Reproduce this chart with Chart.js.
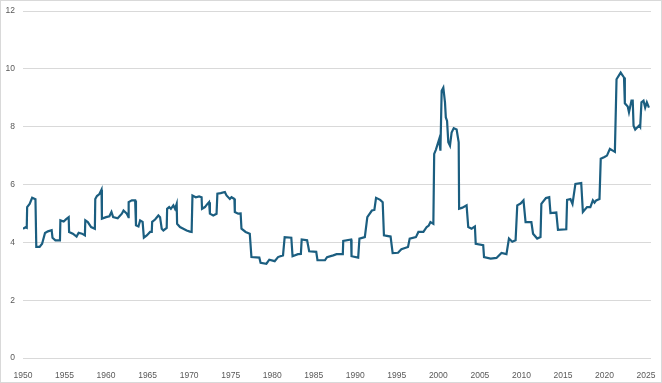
<!DOCTYPE html>
<html>
<head>
<meta charset="utf-8">
<script src="https://cdn.jsdelivr.net/npm/chart.js@4"></script>
<style>
  html, body { margin: 0; padding: 0; background: #fff; }
  #wrap { width: 662px; height: 383px; box-sizing: border-box; border: 1px solid #d9d9d9; }
  #chart { display: block; }
</style>
</head>
<body>
<div id="wrap"><canvas id="chart" width="660" height="381"></canvas></div>
<script>
// x positions (decimal years) and values
const years = [
  1950.0, 1950.3, 1950.45, 1950.5, 1950.8, 1951.1, 1951.5, 1951.6, 1952.0, 1952.3,
  1952.65, 1953.0, 1953.45, 1953.55, 1953.9, 1954.45, 1954.5, 1954.9, 1955.2, 1955.5,
  1955.55, 1956.0, 1956.45, 1956.7, 1957.1, 1957.45, 1957.5, 1957.8, 1958.2, 1958.65,
  1958.7, 1958.9, 1959.2, 1959.45, 1959.5, 1960.0, 1960.4, 1960.65, 1960.85, 1961.4,
  1961.9, 1962.1, 1962.5, 1962.7, 1962.72, 1963.1, 1963.5, 1963.6, 1963.9, 1964.1,
  1964.4, 1964.55, 1964.9, 1965.3, 1965.5, 1965.55, 1965.9, 1966.3, 1966.5, 1966.7,
  1966.9, 1967.3, 1967.35, 1967.6, 1967.8, 1968.1, 1968.3, 1968.5, 1968.55, 1968.9,
  1969.3, 1969.7, 1970.1, 1970.3, 1970.4, 1970.8, 1971.2, 1971.5, 1971.55, 1971.9,
  1972.2, 1972.4, 1972.5, 1972.9, 1973.3, 1973.4, 1973.8, 1974.3, 1974.5, 1974.9,
  1975.1, 1975.45, 1975.5, 1975.9, 1976.2, 1976.3, 1976.8, 1977.3, 1977.5, 1978.45,
  1978.6, 1979.3, 1979.65, 1980.3, 1980.7, 1981.3, 1981.5, 1982.3, 1982.45, 1983.1,
  1983.45, 1983.55, 1984.2, 1984.45, 1985.3, 1985.45, 1986.35, 1986.6, 1987.35, 1987.75,
  1988.5, 1988.55, 1989.5, 1989.55, 1990.35, 1990.5, 1991.15, 1991.45, 1992.0, 1992.3,
  1992.5, 1993.0, 1993.3, 1993.45, 1994.25, 1994.5, 1995.15, 1995.55, 1996.35, 1996.55,
  1997.3, 1997.6, 1998.2, 1998.6, 1998.85, 1999.05, 1999.4, 1999.5, 1999.7, 2000.1,
  2000.25, 2000.4, 2000.6, 2000.8, 2000.9, 2001.05, 2001.2, 2001.4, 2001.6, 2001.85,
  2002.2, 2002.45, 2002.5, 2002.9, 2003.4, 2003.6, 2004.0, 2004.4, 2004.5, 2005.4,
  2005.5, 2006.3, 2007.0, 2007.6, 2008.2, 2008.5, 2008.9, 2009.3, 2009.5, 2009.9,
  2010.25, 2010.5, 2011.2, 2011.4, 2011.9, 2012.3, 2012.4, 2012.95, 2013.35, 2013.5,
  2014.2, 2014.4, 2015.4, 2015.5, 2015.9, 2016.15, 2016.5, 2017.2, 2017.4, 2017.9,
  2018.3, 2018.6, 2018.8, 2019.0, 2019.4, 2019.55, 2020.0, 2020.3, 2020.65, 2021.0,
  2021.25, 2021.45, 2021.95, 2022.35, 2022.45, 2022.8, 2022.95, 2023.25, 2023.4, 2023.5,
  2023.7, 2024.2, 2024.3, 2024.45, 2024.7, 2024.9, 2025.1, 2025.35
];
const values = [
  4.47, 4.52, 4.5, 5.22, 5.33, 5.54, 5.49, 3.84, 3.84, 3.95,
  4.32, 4.38, 4.42, 4.16, 4.07, 4.07, 4.76, 4.72, 4.8, 4.87,
  4.36, 4.3, 4.2, 4.33, 4.3, 4.24, 4.76, 4.7, 4.53, 4.47,
  5.5, 5.6, 5.67, 5.82, 4.82, 4.87, 4.9, 5.05, 4.87, 4.83,
  4.99, 5.1, 4.99, 4.87, 5.39, 5.45, 5.45, 4.59, 4.55, 4.76,
  4.71, 4.16, 4.24, 4.36, 4.36, 4.71, 4.79, 4.93, 4.87, 4.47,
  4.41, 4.5, 5.16, 5.22, 5.16, 5.28, 5.16, 5.33, 4.64, 4.53,
  4.47, 4.41, 4.37, 4.36, 5.62, 5.56, 5.59, 5.56, 5.16, 5.22,
  5.33, 5.39, 4.99, 4.93, 4.99, 5.68, 5.7, 5.74, 5.62, 5.5,
  5.56, 5.5, 5.05, 4.99, 5.0, 4.47, 4.36, 4.3, 3.49, 3.47,
  3.29, 3.26, 3.4, 3.35, 3.49, 3.55, 4.18, 4.16, 3.52, 3.59,
  3.6, 4.1, 4.07, 3.69, 3.67, 3.38, 3.38, 3.49, 3.55, 3.59,
  3.59, 4.05, 4.1, 3.52, 3.47, 4.13, 4.18, 4.87, 5.1, 5.12,
  5.54, 5.47, 5.39, 4.24, 4.2, 3.63, 3.64, 3.76, 3.84, 4.13,
  4.18, 4.36, 4.36, 4.53, 4.58, 4.7, 4.64, 7.06, 7.2, 7.57,
  7.17, 9.24, 9.35, 8.84, 8.32, 8.2, 7.46, 7.34, 7.8, 7.95,
  7.9, 7.46, 5.16, 5.2, 5.28, 4.53, 4.47, 4.55, 3.95, 3.9,
  3.49, 3.44, 3.46, 3.63, 3.59, 4.13, 4.02, 4.07, 5.28, 5.34,
  5.45, 4.7, 4.7, 4.3, 4.13, 4.18, 5.33, 5.53, 5.56, 5.01,
  5.03, 4.43, 4.45, 5.47, 5.5, 5.33, 6.02, 6.05, 5.05, 5.22,
  5.22, 5.45, 5.37, 5.45, 5.5, 6.89, 6.95, 7.0, 7.23, 7.17,
  7.13, 9.64, 9.87, 9.7, 8.81, 8.7, 8.5, 8.9, 8.9, 8.03,
  7.9, 8.05, 8.0, 8.84, 8.9, 8.66, 8.84, 8.66
];

const yearTicks = [1950, 1955, 1960, 1965, 1970, 1975, 1980, 1985, 1990, 1995, 2000, 2005, 2010, 2015, 2020, 2025];
const valueTicks = [0, 2, 4, 6, 8, 10, 12];

const tickFont = { family: "'Liberation Sans', Arial, sans-serif", size: 8.5 };
const tickColor = "#595959";

new Chart(document.getElementById("chart"), {
  type: "line",
  data: {
    datasets: [{
      data: years.map((x, i) => ({ x, y: values[i] })),
      borderColor: "#1b5e80",
      borderWidth: 2.2,
      pointRadius: 0,
      tension: 0,
      fill: false
    }]
  },
  options: {
    responsive: false,
    animation: false,
    layout: { padding: { left: 0, right: 10, top: 10, bottom: 0 } },
    plugins: { legend: { display: false }, tooltip: { enabled: false } },
    scales: {
      x: {
        type: "linear",
        min: 1950,
        max: 2025.6,
        grid: { display: false },
        border: { display: false },
        afterBuildTicks: axis => { axis.ticks = yearTicks.map(v => ({ value: v })); },
        afterFit: axis => { axis.height = 24; axis.paddingLeft = 0; axis.paddingRight = 0; },
        ticks: { color: tickColor, font: tickFont, padding: 5, maxRotation: 0, autoSkip: false,
          callback: v => String(v) }
      },
      y: {
        min: 0,
        max: 12,
        grid: { color: "#d9d9d9", drawTicks: false },
        border: { display: false },
        afterBuildTicks: axis => { axis.ticks = valueTicks.map(v => ({ value: v })); },
        afterFit: axis => { axis.width = 22; axis.paddingTop = 0; axis.paddingBottom = 0; },
        ticks: { color: tickColor, font: tickFont, padding: 8 }
      }
    }
  }
});
</script>
</body>
</html>
